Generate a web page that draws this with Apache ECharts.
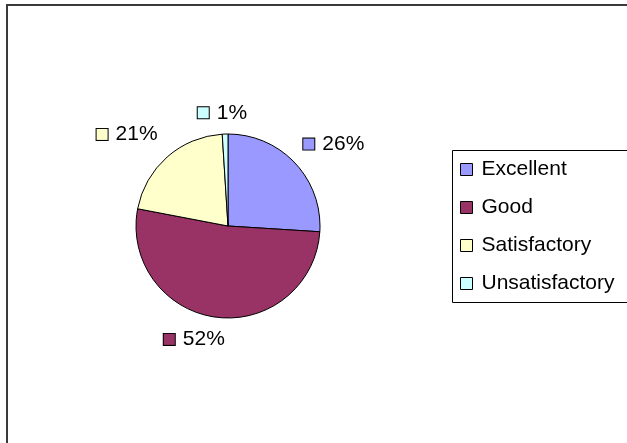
<!DOCTYPE html>
<html>
<head>
<meta charset="utf-8">
<script src="https://cdn.jsdelivr.net/npm/echarts@6/dist/echarts.min.js"></script>
<style>
  html, body { margin: 0; padding: 0; background: #fff; }
  #chart { width: 627px; height: 443px; }
</style>
</head>
<body>
<div id="chart"></div>
<script>
// Rating shares (percent)
const categories = ['Excellent', 'Good', 'Satisfactory', 'Unsatisfactory'];
const shares = [26, 52, 21, 1];
const sliceColors = ['#9999FF', '#993366', '#FFFFCC', '#CCFFFF'];

const CX = 228, CY = 226, R = 92, LABEL_GAP = 11;
const FONT = '"Liberation Sans", Arial, sans-serif';
// small per-label adjustments so the value labels clear each other nicely
const labelNudge = [[9, 9], [-19, -3], [-14, 7], [-2, 1]];

const total = shares.reduce((a, b) => a + b, 0);

// Place each value label just outside the pie, on the slice's mid-angle
function placeLabel(params) {
  const i = params.dataIndex;
  let before = 0;
  for (let k = 0; k < i; k++) before += shares[k];
  const mid = (before + shares[i] / 2) / total * Math.PI * 2;
  const sx = Math.sin(mid), sy = -Math.cos(mid);
  const hw = params.labelRect.width / 2, hh = params.labelRect.height / 2;
  const dist = R + LABEL_GAP + hw * Math.abs(sx) + hh * Math.abs(sy);
  return {
    x: CX + dist * sx + labelNudge[i][0],
    y: CY + dist * sy + labelNudge[i][1],
    align: 'center', verticalAlign: 'middle'
  };
}

const chart = echarts.init(document.getElementById('chart'));
chart.setOption({
  animation: false,
  backgroundColor: '#fff',
  graphic: [
    { type: 'rect', shape: { x: 7, y: 5, width: 700, height: 500 },
      style: { fill: 'none', stroke: '#3a3a3a', lineWidth: 2 }, z: 0 },
    { type: 'rect', shape: { x: 452.5, y: 150.5, width: 300, height: 152 },
      style: { fill: 'none', stroke: '#000', lineWidth: 1 }, z: 0 }
  ],
  legend: {
    orient: 'vertical',
    left: 460,
    top: 159,
    padding: 0,
    itemWidth: 12,
    itemHeight: 12,
    itemGap: 17,
    icon: 'rect',
    itemStyle: { borderColor: '#000', borderWidth: 1 },
    textStyle: { fontFamily: FONT, fontSize: 21, lineHeight: 20, color: '#000', padding: [0, 0, 0, 4] },
    data: categories
  },
  series: [{
    type: 'pie',
    center: [CX, CY],
    radius: R,
    startAngle: 90,
    clockwise: true,
    avoidLabelOverlap: false,
    itemStyle: { borderColor: '#000', borderWidth: 1 },
    labelLine: { show: false },
    label: {
      show: true,
      position: 'outside',
      formatter: p => '{sq' + p.dataIndex + '|}{v|' + p.value + '%}',
      rich: Object.assign({
        v: { fontFamily: FONT, fontSize: 21, color: '#000', padding: [0, 0, 0, 8] }
      }, ...sliceColors.map((c, i) => ({
        ['sq' + i]: { width: 11, height: 11, backgroundColor: c, borderColor: '#000', borderWidth: 1 }
      })))
    },
    labelLayout: placeLabel,
    data: categories.map((name, i) => ({
      name: name, value: shares[i], itemStyle: { color: sliceColors[i] }
    }))
  }]
});
</script>
</body>
</html>
